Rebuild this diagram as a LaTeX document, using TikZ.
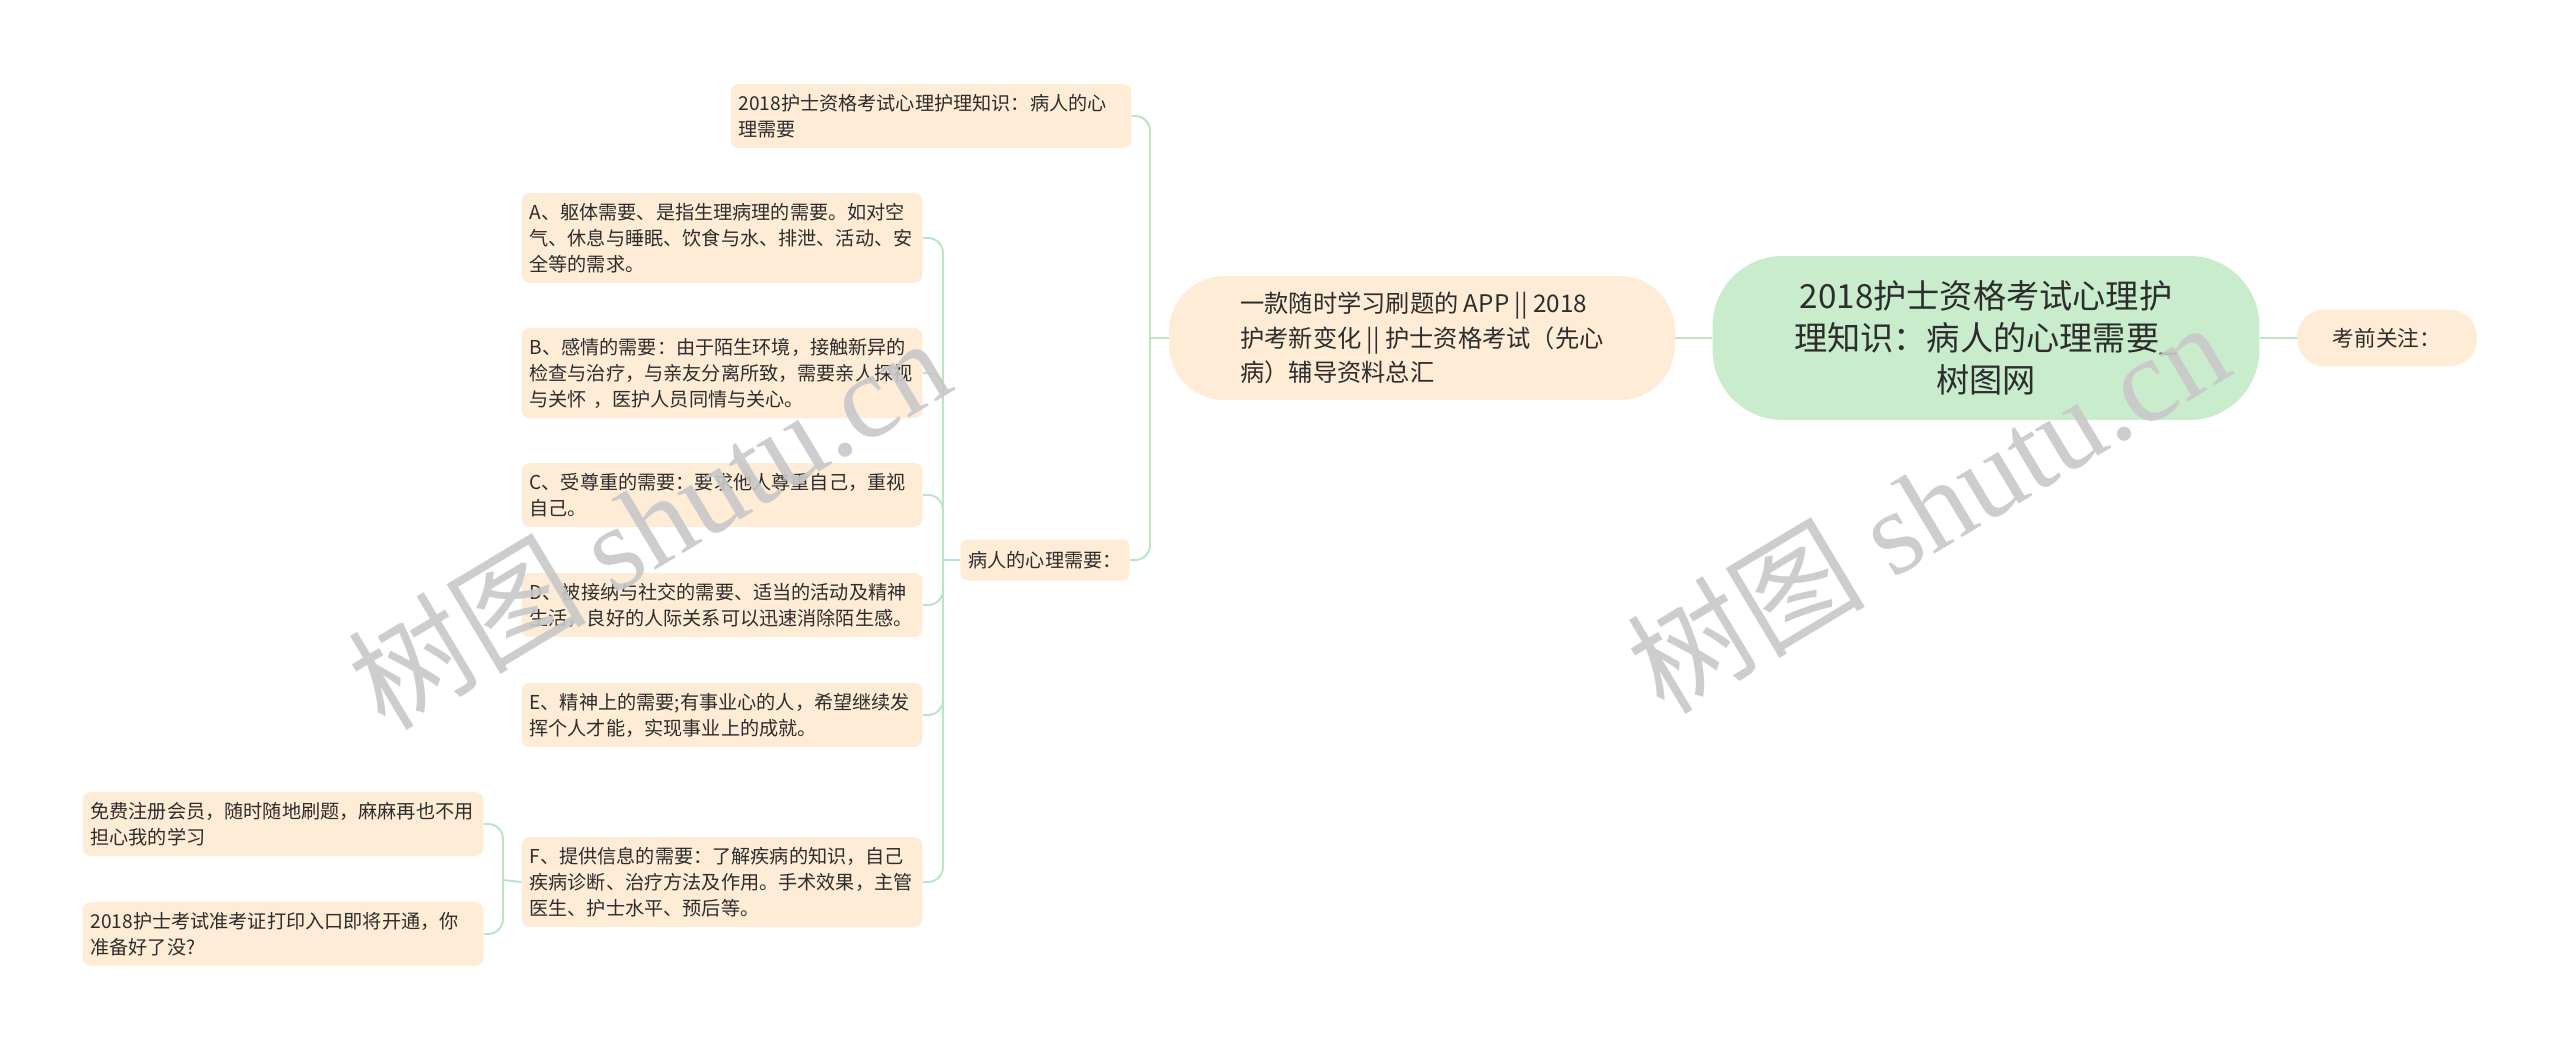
\documentclass[tikz,border=0pt]{standalone}
\usepackage{fontspec}
\setmainfont{Noto Sans CJK SC}
\newfontfamily\wmlatin{Liberation Serif}

\definecolor{peach}{RGB}{254,236,214}
\definecolor{mint}{RGB}{200,236,204}
\definecolor{linkgreen}{RGB}{186,228,194}
\definecolor{ink}{RGB}{45,45,45}
\definecolor{wmgray}{RGB}{200,200,200}

\begin{document}
\begin{tikzpicture}[x=0.02cm, y=-0.02cm, text=ink,
    leaf/.style={fill=peach, rounded corners=0.16cm, align=left, text width=7.7cm,
        inner xsep=0.16cm, inner ysep=0.2cm, font=\fontsize{10.9pt}{14.8pt}\selectfont},
    link/.style={draw=linkgreen, line width=1.1pt, rounded corners=0.3cm},
    wm/.style={text=wmgray, text opacity=0.9, rotate=31, font=\fontsize{68pt}{68pt}\selectfont}]

    \useasboundingbox (0,0) rectangle (2560,1051);

    %%% Centre and first level
    \node (root) [fill=mint, rounded corners=1.4cm, align=center, minimum width=10.94cm,
        minimum height=3.28cm, font=\fontsize{18.9pt}{23.9pt}\selectfont] at (1986,338)
        {2018护士资格考试心理护\\理知识：病人的心理需要\_\\树图网};
    \node (follow) [fill=peach, rounded corners=0.55cm, minimum width=3.6cm, minimum height=1.14cm,
        font=\fontsize{12.3pt}{15pt}\selectfont] at (2387,338) {考前关注：};
    \node (app) [fill=peach, rounded corners=1.1cm, align=left, minimum width=10.12cm,
        minimum height=2.48cm, font=\fontsize{13.8pt}{19.5pt}\selectfont] at (1422,338)
        {一款随时学习刷题的 APP || 2018\\护考新变化 || 护士资格考试（先心\\病）辅导资料总汇};

    %%% Second level
    \node (title) [leaf] at (931,116) {2018护士资格考试心理护理知识：病人的心\\理需要};
    \node (need) [leaf, text width=, minimum height=0.82cm] at (1045,560) {病人的心理需要：};

    %%% Needs A to F
    \node (needA) [leaf] at (722,238) {A、躯体需要、是指生理病理的需要。如对空\\气、休息与睡眠、饮食与水、排泄、活动、安\\全等的需求。};
    \node (needB) [leaf] at (722,373) {B、感情的需要：由于陌生环境，接触新异的\\检查与治疗，与亲友分离所致，需要亲人探视\\与关怀 ，医护人员同情与关心。};
    \node (needC) [leaf] at (722,495) {C、受尊重的需要：要求他人尊重自己，重视\\自己。};
    \node (needD) [leaf] at (722,605) {D、被接纳与社交的需要、适当的活动及精神\\生活，良好的人际关系可以迅速消除陌生感。};
    \node (needE) [leaf] at (722,715) {E、精神上的需要;有事业心的人，希望继续发\\挥个人才能，实现事业上的成就。};
    \node (needF) [leaf] at (722,882) {F、提供信息的需要：了解疾病的知识，自己\\疾病诊断、治疗方法及作用。手术效果，主管\\医生、护士水平、预后等。};

    %%% Third level
    \node (free) [leaf] at (283,824) {免费注册会员，随时随地刷题，麻麻再也不用\\担心我的学习};
    \node (admit) [leaf] at (283,934) {2018护士考试准考证打印入口即将开通，你\\准备好了没?};

    %%% Links
    \coordinate (jApp) at (1150,338);
    \coordinate (jNeed) at (943,560);
    \coordinate (jF) at (503,880);

    \draw[link] (root.east) -- (follow.west);
    \draw[link] (app.east) -- (root.west);
    \draw[link] (app.west) -- (jApp);
    \draw[link] (title.east) -| (jApp);
    \draw[link] (need.east) -| (jApp);
    \draw[link] (need.west) -- (jNeed);
    \foreach \n in {needA,needB,needC,needD,needE,needF}
        \draw[link] (\n.east) -| (jNeed);
    \draw[link] (needF.west) -- (jF);
    \draw[link] (free.east) -| (jF);
    \draw[link] (admit.east) -| (jF);

    %%% Watermarks
    \node (wmLeft) [wm] at (648,522) {树图 {\wmlatin shutu.cn}};
    \node (wmRight) [wm] at (1927,506) {树图 {\wmlatin shutu.cn}};

\end{tikzpicture}
\end{document}
